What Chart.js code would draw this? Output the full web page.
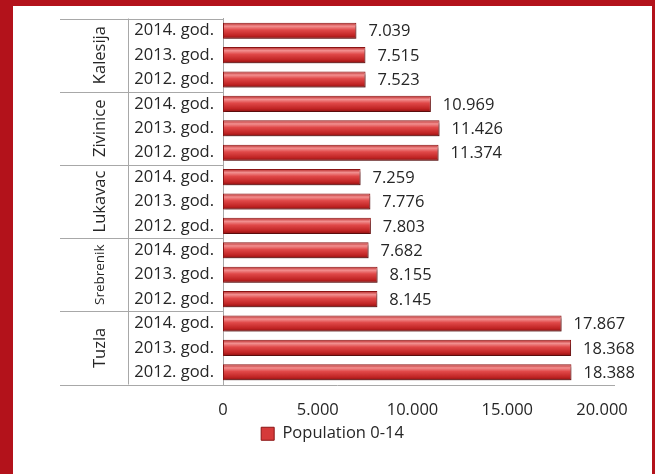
<!DOCTYPE html>
<html>
<head>
<meta charset="utf-8">
<script src="https://cdn.jsdelivr.net/npm/chart.js@4/dist/chart.umd.min.js"></script>
<style>
    html, body { margin: 0; padding: 0; }
    body { width: 655px; height: 474px; background: #b3121b; position: relative; overflow: hidden; }
    #frame { position: absolute; left: 13px; top: 6px; width: 639px; height: 468px; background: #fff; }
</style>
</head>
<body>
<div id="frame"><canvas id="popChart"></canvas></div>
<script>
const municipalities = ["Kalesija", "Zivinice", "Lukavac", "Srebrenik", "Tuzla"];
const years = ["2014. god.", "2013. god.", "2012. god."];
const population = [
    7039, 7515, 7523,
    10969, 11426, 11374,
    7259, 7776, 7803,
    7682, 8155, 8145,
    17867, 18368, 18388
];
const xTicks = [0, 5000, 10000, 15000, 20000];

const labels = [];
municipalities.forEach(() => years.forEach((y) => labels.push(y)));

const textColor = "#262626";
const lineColor = "#a8a8a8";
const fontFamily = "'Open Sans', sans-serif";

function formatNumber(v) {
    return String(v).replace(/\B(?=(\d{3})+(?!\d))/g, ".");
}

function barFill(context) {
    const chart = context.chart;
    const yScale = chart.scales.y;
    if (context.type !== "data" || !yScale || !chart.chartArea) {
        return "#d03434";
    }
    const yc = yScale.getPixelForValue(context.dataIndex);
    const h = (yScale.height / labels.length) * 0.66;
    const g = chart.ctx.createLinearGradient(0, yc - h / 2, 0, yc + h / 2);
    g.addColorStop(0, "#b52222");
    g.addColorStop(0.22, "#f29090");
    g.addColorStop(0.45, "#e04848");
    g.addColorStop(0.8, "#c02424");
    g.addColorStop(1, "#8c1010");
    return g;
}

function noEdgePadding(scale) {
    scale.paddingTop = 0;
    scale.paddingBottom = 0;
    scale.paddingLeft = 0;
    scale.paddingRight = 0;
}

// grey shadow under the bars, then value labels
const barExtras = {
    id: "barExtras",
    beforeDatasetsDraw(chart) {
        const ctx = chart.ctx;
        ctx.save();
        ctx.shadowColor = "rgba(0,0,0,0.35)";
        ctx.shadowOffsetX = 1;
        ctx.shadowOffsetY = 3;
        ctx.shadowBlur = 2;
    },
    afterDatasetsDraw(chart) {
        const ctx = chart.ctx;
        ctx.restore();
        ctx.save();
        ctx.font = "16.5px " + fontFamily;
        ctx.fillStyle = textColor;
        ctx.textAlign = "left";
        ctx.textBaseline = "middle";
        chart.getDatasetMeta(0).data.forEach((bar, i) => {
            ctx.fillText(formatNumber(population[i]), bar.x + 12, bar.y + 1);
        });
        ctx.restore();
    }
};

// category table: group lines and rotated municipality names
const categoryTable = {
    id: "categoryTable",
    afterDraw(chart) {
        const ctx = chart.ctx;
        const area = chart.chartArea;
        const yScale = chart.scales.y;
        const tableLeft = 47;
        const splitX = 115.5;
        const step = yScale.height / labels.length;
        ctx.save();
        ctx.strokeStyle = lineColor;
        ctx.lineWidth = 1;
        ctx.beginPath();
        for (let g = 0; g <= municipalities.length; g++) {
            const y = Math.round(area.top + g * years.length * step) + 0.5;
            ctx.moveTo(tableLeft, y);
            ctx.lineTo(g === municipalities.length ? area.right + 13 : area.left, y);
        }
        ctx.moveTo(splitX, area.top);
        ctx.lineTo(splitX, area.bottom);
        ctx.stroke();

        ctx.fillStyle = textColor;
        ctx.textAlign = "center";
        ctx.textBaseline = "middle";
        municipalities.forEach((name, g) => {
            const yc = (yScale.getPixelForValue(g * 3) + yScale.getPixelForValue(g * 3 + 2)) / 2;
            ctx.save();
            ctx.translate(87, yc);
            ctx.rotate(-Math.PI / 2);
            ctx.font = (name === "Srebrenik" ? "13.5px " : "16.5px ") + fontFamily;
            ctx.fillText(name, 0, 0);
            ctx.restore();
        });
        ctx.restore();
    }
};

new Chart(document.getElementById("popChart"), {
    type: "bar",
    data: {
        labels: labels,
        datasets: [
            {
                label: "Population 0-14",
                data: population,
                backgroundColor: barFill,
                borderColor: "#8a1414",
                borderWidth: 1,
                borderSkipped: false,
                barPercentage: 0.66,
                categoryPercentage: 1,
            },
        ],
    },
    options: {
        indexAxis: "y",
        responsive: true,
        maintainAspectRatio: false,
        animation: false,
        layout: { padding: { top: 12.5, right: 0, bottom: 22, left: 0 } },
        scales: {
            x: {
                min: 0,
                max: 20000,
                clip: false,
                afterBuildTicks: (scale) => {
                    scale.ticks = xTicks.map((v) => ({ value: v }));
                },
                afterFit: (scale) => {
                    noEdgePadding(scale);
                    scale.height = 31;
                },
                grid: { display: false, drawTicks: false },
                border: { display: false },
                ticks: {
                    padding: 16,
                    color: textColor,
                    font: { family: fontFamily, size: 16.5 },
                    maxRotation: 0,
                    callback: (v) => formatNumber(v),
                },
            },
            y: {
                afterFit: (scale) => {
                    noEdgePadding(scale);
                    scale.width = 210;
                },
                grid: { display: false, drawTicks: false },
                border: { display: true, color: lineColor },
                ticks: {
                    padding: 9,
                    color: textColor,
                    font: { family: fontFamily, size: 16.5 },
                    autoSkip: false,
                },
            },
            yRight: {
                type: "category",
                position: "right",
                labels: labels,
                afterFit: (scale) => {
                    noEdgePadding(scale);
                    scale.width = 50;
                },
                grid: { display: false, drawTicks: false },
                border: { display: false },
                ticks: { display: false },
            },
        },
        plugins: {
            legend: {
                position: "bottom",
                labels: {
                    boxWidth: 13,
                    boxHeight: 13,
                    padding: 10,
                    color: textColor,
                    font: { family: fontFamily, size: 16.5 },
                    generateLabels: (chart) =>
                        Chart.defaults.plugins.legend.labels.generateLabels(chart).map((item) => {
                            item.fillStyle = "#d63a3a";
                            item.strokeStyle = "#8a1414";
                            item.lineWidth = 1;
                            return item;
                        }),
                },
            },
            tooltip: { enabled: false },
        },
    },
    plugins: [barExtras, categoryTable],
});
</script>
</body>
</html>
